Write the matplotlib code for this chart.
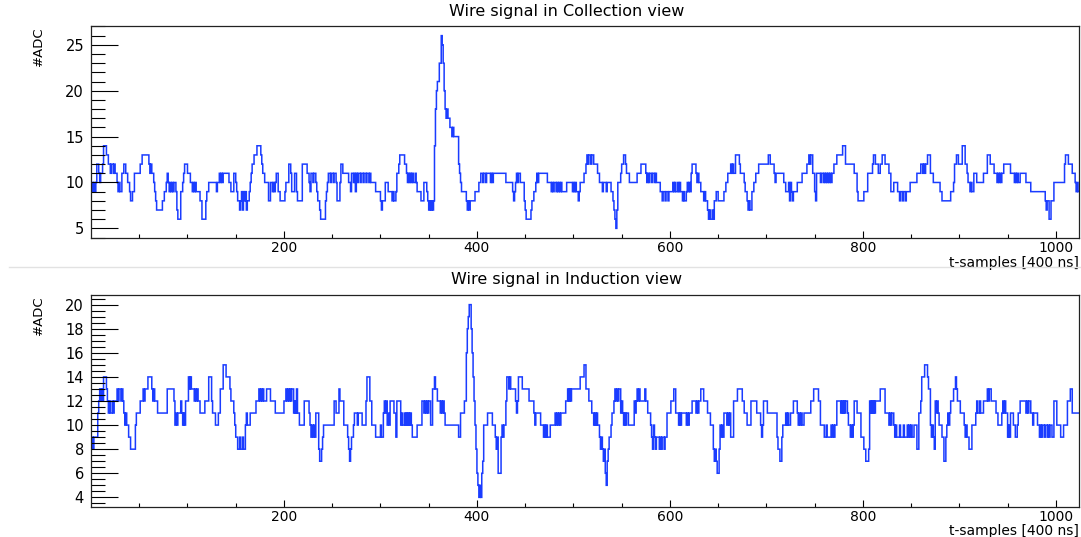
import numpy as np
import matplotlib
matplotlib.use("Agg")
import matplotlib.pyplot as plt
from matplotlib.ticker import MultipleLocator, FixedLocator
from matplotlib.lines import Line2D

N_SAMPLES = 1024

# (first sample, ADC value) - value holds until the next entry
collection_steps = [
    (0, 9), (1, 10), (2, 9), (3, 10), (4, 9), (5, 10), (6, 12), (8, 11), (9, 10), (10, 11),
    (12, 12), (13, 14), (16, 13), (18, 12), (20, 11), (21, 12), (23, 11), (24, 12), (25, 11),
    (27, 10), (28, 9), (29, 10), (30, 9), (32, 11), (34, 12), (36, 11), (38, 10), (40, 9),
    (41, 8), (43, 9), (45, 11), (51, 12), (53, 13), (60, 12), (61, 11), (62, 12), (63, 11),
    (65, 10), (66, 9), (67, 8), (68, 7), (74, 8), (76, 9), (78, 10), (79, 11), (80, 10),
    (81, 9), (82, 10), (83, 9), (84, 10), (85, 9), (86, 10), (88, 9), (89, 7), (90, 6),
    (93, 9), (95, 10), (96, 11), (97, 12), (100, 11), (103, 10), (105, 9), (106, 10),
    (107, 9), (108, 10), (109, 9), (113, 8), (115, 6), (119, 8), (120, 9), (122, 10),
    (130, 9), (131, 10), (133, 11), (134, 10), (135, 11), (136, 10), (137, 11), (143, 10),
    (145, 9), (148, 11), (150, 10), (151, 9), (152, 8), (154, 7), (155, 8), (156, 9),
    (157, 7), (158, 9), (159, 8), (160, 9), (161, 7), (162, 8), (164, 9), (165, 10),
    (166, 11), (167, 12), (169, 13), (172, 14), (176, 13), (177, 12), (178, 11), (180, 10),
    (184, 8), (186, 10), (188, 9), (189, 10), (190, 9), (191, 10), (192, 11), (194, 9),
    (196, 8), (201, 9), (202, 10), (205, 12), (207, 11), (208, 9), (211, 11), (213, 9),
    (214, 8), (219, 12), (224, 11), (226, 10), (227, 9), (228, 11), (230, 10), (231, 11),
    (233, 10), (234, 9), (235, 8), (237, 7), (238, 6), (243, 8), (244, 9), (245, 10),
    (246, 11), (248, 10), (249, 11), (251, 10), (252, 11), (254, 10), (255, 8), (258, 10),
    (259, 12), (261, 11), (267, 10), (269, 9), (270, 11), (272, 10), (273, 11), (274, 9),
    (275, 11), (276, 10), (277, 11), (279, 10), (280, 11), (282, 10), (283, 11), (285, 10),
    (286, 11), (288, 10), (289, 11), (290, 10), (295, 9), (300, 8), (301, 7), (302, 8),
    (305, 10), (308, 9), (312, 8), (313, 9), (314, 8), (316, 9), (317, 11), (319, 12),
    (320, 13), (325, 12), (327, 11), (328, 10), (329, 11), (330, 10), (331, 11), (332, 10),
    (333, 11), (334, 10), (336, 11), (337, 10), (338, 9), (342, 8), (345, 10), (348, 9),
    (349, 8), (350, 7), (351, 8), (352, 7), (353, 8), (354, 7), (355, 8), (356, 14),
    (357, 18), (358, 20), (359, 21), (361, 23), (363, 26), (364, 25), (365, 23), (366, 20),
    (367, 18), (368, 17), (369, 18), (370, 17), (372, 16), (374, 15), (375, 16), (376, 15),
    (381, 12), (382, 11), (383, 10), (384, 9), (389, 8), (390, 7), (391, 8), (392, 7),
    (393, 8), (398, 9), (402, 10), (404, 11), (406, 10), (407, 11), (409, 10), (410, 11),
    (414, 10), (415, 11), (416, 10), (417, 11), (430, 10), (437, 9), (438, 8), (439, 9),
    (440, 10), (441, 11), (442, 10), (443, 11), (445, 10), (449, 8), (450, 7), (451, 6),
    (456, 7), (457, 8), (459, 9), (461, 10), (462, 11), (463, 10), (464, 11), (473, 10),
    (477, 9), (478, 10), (479, 9), (480, 10), (482, 9), (483, 10), (484, 9), (485, 10),
    (486, 9), (487, 10), (488, 9), (493, 10), (499, 9), (500, 10), (501, 9), (502, 10),
    (503, 9), (505, 8), (506, 9), (507, 10), (511, 11), (513, 12), (514, 13), (515, 12),
    (516, 13), (518, 12), (519, 13), (521, 12), (525, 11), (527, 10), (530, 9), (531, 10),
    (534, 9), (535, 10), (539, 9), (541, 8), (542, 7), (543, 6), (544, 5), (545, 7),
    (546, 10), (549, 11), (550, 12), (552, 13), (554, 12), (555, 11), (558, 10), (566, 11),
    (570, 12), (575, 11), (576, 10), (577, 11), (578, 10), (579, 11), (581, 10), (582, 11),
    (584, 10), (585, 11), (586, 10), (590, 9), (592, 8), (593, 9), (595, 8), (596, 9),
    (598, 8), (599, 9), (603, 10), (604, 9), (605, 10), (606, 9), (608, 10), (609, 9),
    (610, 10), (611, 9), (613, 8), (614, 9), (615, 8), (617, 9), (618, 10), (619, 9),
    (620, 10), (621, 9), (622, 11), (623, 12), (627, 11), (628, 10), (629, 11), (630, 10),
    (632, 9), (635, 8), (636, 9), (637, 8), (639, 7), (640, 6), (641, 7), (642, 6),
    (644, 7), (645, 6), (646, 8), (648, 9), (650, 8), (656, 9), (658, 10), (660, 11),
    (663, 12), (664, 11), (665, 12), (666, 11), (668, 13), (672, 12), (673, 11), (677, 10),
    (678, 9), (680, 8), (681, 7), (682, 8), (683, 7), (685, 9), (687, 10), (689, 11),
    (692, 12), (702, 13), (704, 12), (708, 11), (709, 10), (710, 11), (718, 10), (720, 9),
    (723, 10), (724, 8), (725, 10), (726, 9), (727, 8), (728, 9), (732, 10), (737, 11),
    (742, 12), (744, 13), (745, 12), (746, 13), (748, 11), (750, 9), (751, 8), (752, 11),
    (756, 10), (757, 11), (759, 10), (760, 11), (761, 10), (762, 11), (763, 10), (764, 11),
    (765, 10), (766, 11), (767, 10), (768, 11), (770, 12), (773, 13), (779, 14), (782, 12),
    (791, 11), (794, 9), (795, 8), (801, 9), (805, 11), (810, 12), (811, 13), (813, 12),
    (816, 11), (818, 12), (820, 13), (823, 12), (827, 11), (829, 9), (832, 10), (836, 9),
    (838, 8), (839, 9), (841, 8), (842, 9), (844, 8), (845, 9), (849, 10), (856, 11),
    (860, 12), (862, 11), (863, 12), (864, 11), (865, 12), (867, 13), (870, 11), (873, 10),
    (880, 9), (882, 8), (891, 9), (894, 10), (895, 12), (897, 13), (899, 12), (903, 14),
    (906, 12), (908, 11), (909, 10), (911, 9), (912, 10), (913, 9), (915, 11), (918, 10),
    (925, 11), (929, 13), (932, 12), (936, 11), (939, 10), (940, 11), (941, 10), (942, 11),
    (943, 10), (944, 11), (946, 12), (953, 11), (957, 10), (958, 11), (959, 10), (960, 11),
    (961, 10), (963, 11), (969, 10), (974, 9), (989, 8), (990, 7), (991, 8), (993, 6),
    (995, 8), (998, 10), (1009, 12), (1010, 13), (1013, 12), (1017, 11), (1020, 10),
    (1021, 9), (1022, 10), (1023, 9),
]

induction_steps = [
    (0, 8), (1, 9), (2, 8), (3, 9), (7, 11), (8, 12), (9, 13), (10, 12), (11, 13), (12, 12),
    (13, 14), (16, 13), (17, 12), (18, 11), (19, 12), (20, 11), (22, 12), (23, 11), (24, 12),
    (27, 13), (28, 12), (29, 13), (31, 12), (32, 13), (33, 12), (34, 11), (35, 10), (36, 11),
    (37, 10), (39, 9), (41, 8), (46, 10), (47, 11), (51, 12), (54, 13), (55, 12), (56, 13),
    (59, 14), (63, 13), (64, 12), (65, 13), (66, 12), (69, 11), (79, 13), (86, 12), (87, 10),
    (88, 11), (89, 10), (90, 11), (93, 12), (94, 11), (95, 10), (96, 11), (97, 10), (98, 12),
    (101, 14), (102, 13), (103, 14), (104, 13), (107, 12), (108, 13), (109, 12), (110, 13),
    (111, 12), (113, 11), (118, 12), (122, 14), (125, 12), (126, 11), (129, 10), (132, 11),
    (134, 13), (137, 15), (140, 14), (144, 13), (145, 12), (148, 11), (149, 10), (150, 9),
    (152, 8), (154, 9), (155, 8), (157, 9), (158, 8), (160, 10), (161, 11), (162, 10),
    (165, 11), (171, 12), (174, 13), (175, 12), (176, 13), (177, 12), (178, 13), (179, 12),
    (182, 13), (186, 12), (191, 11), (200, 12), (202, 13), (203, 12), (204, 13), (205, 12),
    (206, 13), (207, 12), (208, 13), (210, 11), (211, 12), (212, 11), (213, 13), (214, 11),
    (216, 10), (221, 12), (226, 11), (227, 10), (228, 9), (229, 10), (230, 9), (231, 10),
    (232, 9), (233, 11), (236, 8), (237, 7), (239, 8), (240, 9), (241, 10), (252, 12),
    (254, 11), (257, 13), (258, 12), (262, 10), (266, 9), (267, 8), (268, 7), (269, 8),
    (270, 9), (272, 10), (273, 11), (276, 10), (277, 11), (281, 10), (285, 12), (286, 14),
    (289, 12), (291, 10), (295, 9), (300, 10), (301, 9), (303, 11), (304, 12), (305, 11),
    (306, 12), (307, 10), (308, 11), (309, 10), (310, 12), (314, 11), (316, 9), (317, 12),
    (321, 10), (322, 11), (323, 10), (325, 11), (326, 10), (327, 11), (328, 10), (329, 11),
    (330, 10), (331, 11), (332, 10), (333, 9), (338, 10), (343, 12), (345, 11), (346, 12),
    (347, 11), (348, 12), (349, 11), (350, 12), (352, 10), (354, 13), (356, 14), (357, 13),
    (359, 12), (362, 11), (363, 12), (364, 11), (365, 12), (366, 11), (367, 10), (381, 9),
    (383, 11), (387, 12), (389, 16), (390, 18), (391, 19), (392, 20), (394, 18), (395, 16),
    (396, 14), (397, 12), (398, 10), (399, 8), (400, 6), (401, 5), (402, 4), (403, 5),
    (404, 4), (405, 6), (406, 7), (407, 10), (411, 11), (416, 10), (419, 9), (420, 8),
    (421, 9), (422, 6), (425, 9), (426, 10), (427, 9), (428, 10), (430, 12), (431, 14),
    (433, 13), (434, 14), (435, 13), (440, 12), (441, 11), (442, 12), (443, 14), (447, 13),
    (454, 12), (459, 11), (460, 10), (461, 11), (466, 10), (469, 9), (470, 10), (471, 9),
    (472, 10), (473, 9), (476, 10), (481, 11), (482, 10), (483, 11), (484, 10), (485, 11),
    (486, 10), (487, 11), (492, 12), (494, 13), (495, 12), (496, 13), (497, 12), (498, 13),
    (507, 14), (511, 15), (513, 13), (516, 12), (519, 11), (521, 10), (522, 11), (523, 10),
    (524, 11), (525, 10), (527, 9), (528, 8), (529, 9), (530, 8), (531, 7), (532, 8),
    (533, 6), (534, 5), (535, 7), (536, 8), (537, 9), (539, 10), (540, 11), (542, 12),
    (543, 13), (544, 12), (545, 13), (546, 12), (547, 13), (549, 11), (550, 12), (551, 11),
    (552, 10), (553, 11), (554, 10), (555, 11), (557, 10), (563, 12), (564, 11), (565, 12),
    (566, 13), (567, 12), (568, 13), (569, 12), (574, 13), (575, 12), (577, 11), (580, 10),
    (581, 9), (582, 8), (583, 10), (584, 9), (585, 8), (586, 9), (589, 8), (590, 9),
    (591, 8), (592, 9), (594, 8), (595, 9), (597, 11), (601, 12), (604, 13), (606, 11),
    (609, 10), (610, 11), (611, 10), (612, 11), (617, 10), (618, 11), (619, 10), (620, 11),
    (623, 12), (627, 11), (628, 12), (629, 11), (630, 12), (632, 13), (635, 12), (639, 11),
    (642, 10), (645, 8), (646, 7), (647, 8), (648, 7), (649, 6), (651, 8), (652, 10),
    (653, 9), (654, 10), (655, 9), (656, 11), (659, 10), (660, 11), (661, 10), (662, 11),
    (663, 9), (666, 12), (670, 13), (675, 12), (677, 11), (680, 10), (684, 12), (690, 11),
    (694, 10), (695, 9), (696, 10), (697, 12), (701, 11), (711, 9), (712, 8), (714, 7),
    (716, 9), (717, 10), (720, 11), (721, 10), (722, 11), (723, 10), (725, 11), (728, 12),
    (732, 11), (733, 10), (734, 11), (735, 10), (736, 11), (737, 10), (739, 11), (746, 12),
    (749, 13), (754, 12), (756, 10), (760, 9), (762, 10), (763, 9), (767, 10), (768, 9),
    (769, 10), (770, 9), (771, 10), (773, 12), (777, 11), (778, 12), (779, 11), (780, 12),
    (781, 11), (782, 12), (784, 11), (785, 10), (787, 9), (788, 10), (789, 9), (790, 10),
    (791, 12), (794, 11), (798, 9), (801, 8), (803, 7), (806, 8), (807, 12), (808, 11),
    (809, 12), (810, 11), (811, 12), (812, 11), (813, 12), (818, 13), (823, 11), (827, 10),
    (828, 11), (829, 10), (830, 11), (832, 10), (833, 9), (834, 10), (835, 9), (838, 10),
    (839, 9), (842, 10), (843, 9), (846, 10), (847, 9), (848, 10), (849, 9), (850, 10),
    (851, 9), (853, 10), (856, 8), (858, 11), (860, 12), (861, 14), (864, 15), (867, 14),
    (868, 13), (870, 10), (871, 9), (872, 10), (873, 9), (874, 8), (875, 12), (876, 11),
    (877, 12), (878, 11), (879, 10), (882, 9), (884, 7), (886, 9), (887, 10), (888, 11),
    (889, 10), (890, 11), (891, 12), (894, 13), (896, 14), (897, 13), (898, 12), (901, 11),
    (905, 10), (906, 9), (907, 10), (908, 9), (910, 8), (913, 10), (917, 11), (918, 12),
    (919, 11), (921, 12), (922, 11), (925, 12), (929, 13), (930, 12), (931, 13), (933, 12),
    (938, 11), (940, 10), (944, 11), (945, 12), (946, 11), (947, 12), (948, 11), (950, 9),
    (951, 10), (952, 9), (953, 11), (956, 10), (958, 9), (960, 10), (961, 11), (963, 12),
    (969, 11), (970, 12), (971, 11), (972, 12), (974, 11), (976, 10), (977, 11), (981, 10),
    (983, 9), (984, 10), (985, 9), (986, 10), (988, 9), (989, 10), (991, 9), (992, 10),
    (993, 9), (994, 10), (996, 9), (998, 12), (1001, 10), (1005, 9), (1008, 10), (1012, 12),
    (1015, 13), (1017, 11),
]

x_ticks = [200, 400, 600, 800, 1000]
coll_yticks = [5, 10, 15, 20, 25]
ind_yticks = [4, 6, 8, 10, 12, 14, 16, 18, 20]


def expand(steps, n=N_SAMPLES):
    starts = np.array([s for s, v in steps])
    vals = np.array([v for s, v in steps])
    idx = np.searchsorted(starts, np.arange(n), side="right") - 1
    return vals[idx]


def root_ylim(y):
    lo, hi = y.min(), y.max()
    m = 0.05 * (hi - lo)
    return lo - m, hi + m


def draw_panel(ax, y, yticks, ymin_step, title, title_y):
    edges = np.arange(N_SAMPLES + 1)
    ax.stairs(y, edges, baseline=None, color="#1a3cff", linewidth=1.1)
    ax.set_xlim(0, N_SAMPLES)
    ax.set_ylim(*root_ylim(y))

    ax.xaxis.set_major_locator(FixedLocator(x_ticks))
    ax.xaxis.set_minor_locator(FixedLocator([t for t in range(50, 1024, 50) if t not in x_ticks]))
    ax.yaxis.set_major_locator(FixedLocator(yticks))
    ax.yaxis.set_minor_locator(MultipleLocator(ymin_step))

    ax.tick_params(axis="x", which="major", direction="in", length=5, width=0.8,
                   labelsize=10, pad=2)
    ax.tick_params(axis="x", which="minor", direction="in", length=3, width=0.8)
    ax.tick_params(axis="y", which="major", direction="in", length=19.5, width=0.8,
                   labelsize=10.5, pad=5)
    ax.tick_params(axis="y", which="minor", direction="in", length=10, width=0.8)
    ax.tick_params(top=False, right=False, which="both")
    for sp in ax.spines.values():
        sp.set_linewidth(0.9)
        sp.set_color("#222222")

    ax.text(-0.0536, 1.0, "#ADC", transform=ax.transAxes, rotation=90,
            ha="center", va="top", fontsize=9.5)
    # x title sits just below the tick labels, flush right
    ax.text(1.0, -17.5 / 212, "t-samples [400 ns]", transform=ax.transAxes,
            ha="right", va="top", fontsize=10)
    plt.gcf().text(567 / 1081, title_y, title, ha="center", va="center", fontsize=11.5)


def main():
    plt.rcParams["font.family"] = ["DejaVu Sans"]
    fig = plt.figure(figsize=(10.81, 5.37), dpi=100)

    ax_top = fig.add_axes([91 / 1081, 1 - 238 / 537, 988 / 1081, 212 / 537])
    ax_bot = fig.add_axes([91 / 1081, 1 - 507 / 537, 988 / 1081, 212 / 537])

    draw_panel(ax_top, expand(collection_steps), coll_yticks, 1,
               "Wire signal in Collection view", 1 - 11.7 / 537)
    draw_panel(ax_bot, expand(induction_steps), ind_yticks, 0.5,
               "Wire signal in Induction view", 1 - 279.7 / 537)

    sep_y = 1 - 266.7 / 537
    fig.add_artist(Line2D([0.008, 1.0], [sep_y, sep_y], color="#e2e2e2", linewidth=1))

    fig.savefig("out.png", dpi=100)


if __name__ == "__main__":
    main()
